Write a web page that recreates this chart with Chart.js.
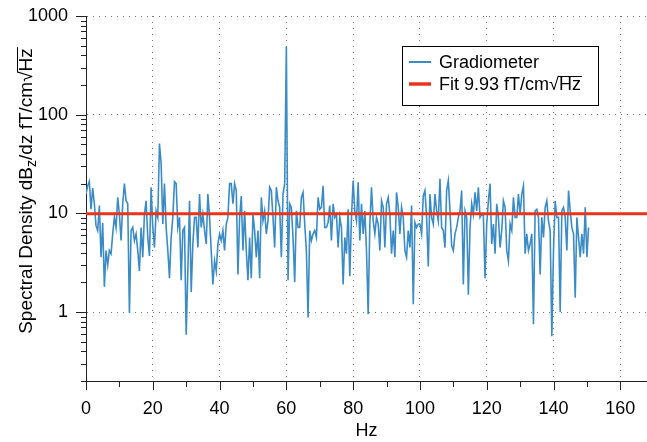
<!DOCTYPE html>
<html>
<head>
<meta charset="utf-8">
<script src="https://cdn.jsdelivr.net/npm/chart.js@4.4.1/dist/chart.umd.min.js"></script>
<style>
  html, body { margin: 0; padding: 0; background: #fff; }
</style>
</head>
<body>
<canvas id="chart" width="647" height="442"></canvas>
<script>
// frequency grid of the spectrum
const hzStart = 0
const hzStep = 0.5

// gradiometer spectral density, one value per 0.5 Hz
const gradiometer = [
  15.7, 19, 21, 11, 18, 12.5, 7.5, 6.7, 12, 3.6,
  8, 1.8, 4.2, 3.0, 4.2, 3.9, 6.2, 9.1, 7.2, 14.5,
  9.8, 5.3, 12.5, 20, 13.4, 12.5, 0.98, 6.7, 7.2, 5.3,
  6.2, 4.2, 2.6, 7.2, 3.6, 9.8, 13.4, 5.7, 3.7, 18.4,
  7.2, 4.5, 10.6, 9.1, 51, 32, 7.8, 20, 7.2, 4.2,
  2.2, 5.7, 9.1, 21, 20, 7.2, 9.1, 2.1, 6.7, 7.2,
  0.59, 2.6, 13.4, 1.6, 4.9, 9.1, 9.1, 4.5, 15.7, 7.2,
  9.8, 6.7, 4.9, 15.7, 9.1, 4.2, 1.9, 3.3, 2.6, 4.9,
  6.2, 5.3, 6.7, 4.2, 7.8, 9.1, 20, 20, 12.5, 20,
  17, 2.4, 9.1, 15, 4.2, 10.6, 4.2, 2.1, 5.7, 2.2,
  9.8, 6.7, 3.6, 6.7, 2.2, 14.5, 8.4, 10.6, 6.2, 8.4,
  18.4, 17, 9.1, 4.5, 18.4, 13.4, 11.5, 3.6, 15.7, 20,
  490, 2.1, 12.5, 11.5, 5.7, 2.0, 10.6, 7.2, 7.2, 14.5,
  16.3, 7.8, 4.2, 0.88, 6.7, 5.3, 6.2, 6.7, 5.7, 14.5,
  11, 11.5, 19, 7.2, 7.2, 8.1, 12, 5.3, 12.5, 9.1,
  9.8, 4.5, 9.1, 7.2, 1.9, 5.7, 3.9, 11, 2.3, 9.1,
  21.5, 10.6, 8.4, 20.7, 5.3, 12.5, 6.2, 10.6, 4.2, 0.95,
  7.8, 18.4, 8.4, 6.2, 9.1, 7.8, 4.2, 13.4, 11.5, 4.5,
  12.5, 14.5, 9.8, 3.9, 6.7, 3.6, 16.3, 11.5, 6.2, 11.5,
  9.1, 4.2, 3.6, 6.7, 4.5, 12, 1.2, 8.1, 7.2, 7.8,
  7.8, 6.2, 15, 17, 9.1, 2.9, 15.7, 9.1, 7.8, 15.7,
  10.6, 8.4, 22.4, 7.2, 6.7, 4.5, 17, 21.5, 10.6, 4.7,
  4.2, 6.2, 7.2, 9.1, 10.6, 17, 1.9, 10.6, 9.1, 1.5,
  7.2, 12.5, 9.8, 16.3, 10.6, 18.4, 9.1, 9.8, 9.5, 2.2,
  7.8, 13.4, 20, 4.9, 7.8, 3.9, 12.5, 9.1, 4.5, 6.7,
  13.4, 11.5, 4.2, 3.3, 7.8, 6.7, 14.5, 9.1, 9.1, 15.7,
  9.8, 15.7, 19, 3.9, 6.2, 4.2, 4.9, 6.2, 0.75, 10.6,
  11, 9.1, 2.4, 9.1, 5.7, 11.5, 13.4, 8.4, 6.7, 0.57,
  4.2, 13.4, 9.1, 9.1, 1.0, 10.6, 11.5, 9.1, 4.2, 17,
  10.6, 7.2, 6.2, 1.4, 9.1, 5.7, 3.6, 6.2, 3.9, 11.5,
  3.6, 7.2
]

const fitLevel = 9.93
const gradLabel = 'Gradiometer'
const fitLabel = 'Fit 9.93 fT/cm√Hz'

const xMin = 0
const xMax = 168
const xTicks = [0, 10, 20, 30, 40, 50, 60, 70, 80, 90, 100, 110, 120, 130, 140, 150, 160]
const xTickLabels = [0, 20, 40, 60, 80, 100, 120, 140, 160]
const xTitle = 'Hz'

const yMin = 0.2
const yMax = 1000
const yTicks = [0.2, 0.3, 0.4, 0.5, 0.6, 0.7, 0.8, 0.9,
  1, 2, 3, 4, 5, 6, 7, 8, 9,
  10, 20, 30, 40, 50, 60, 70, 80, 90,
  100, 200, 300, 400, 500, 600, 700, 800, 900, 1000]
const yTickLabels = [1, 10, 100, 1000]
// title pieces: normal, subscript, normal, overlined (under the root sign)
const yTitle = ['Spectral Density dB', 'z', '/dz fT/cm√', 'Hz']

const blue = '#3b8cc6'
const red = '#e8341c'
const axisColor = '#222'
const gridColor = '#777'
const font = '"Liberation Sans", Arial, Helvetica, sans-serif'

Chart.defaults.font.family = font
Chart.defaults.color = '#000'

// draws text and puts a bar over the part that follows the root sign
function rootText(ctx, text, x, y, size) {
  ctx.fillText(text, x, y)
  const i = text.indexOf('√')
  if (i < 0) return
  const x1 = x + ctx.measureText(text.slice(0, i + 1)).width - 1
  const x2 = x + ctx.measureText(text).width + 1
  const yy = Math.round(y - size * 0.8) + 0.5
  ctx.beginPath()
  ctx.moveTo(x1, yy)
  ctx.lineTo(x2, yy)
  ctx.lineWidth = 1
  ctx.strokeStyle = ctx.fillStyle
  ctx.stroke()
}

const tickMarks = {
  id: 'tickMarks',
  afterDraw(chart) {
    const { ctx, scales: { x, y } } = chart
    ctx.save()
    ctx.strokeStyle = axisColor
    ctx.lineWidth = 1
    ctx.beginPath()
    x.ticks.forEach(t => {
      const px = Math.round(x.getPixelForValue(t.value)) + 0.5
      const len = xTickLabels.includes(t.value) ? 9 : 6
      ctx.moveTo(px, x.top)
      ctx.lineTo(px, x.top + len)
    })
    y.ticks.forEach(t => {
      const py = Math.round(y.getPixelForValue(t.value)) + 0.5
      const len = yTickLabels.includes(t.value) ? 10 : 5
      ctx.moveTo(y.right, py)
      ctx.lineTo(y.right - len, py)
    })
    ctx.stroke()
    ctx.restore()
  }
}

const yAxisTitle = {
  id: 'yAxisTitle',
  afterDraw(chart) {
    const { ctx } = chart
    const big = '19px ' + font
    const small = '14px ' + font
    ctx.save()
    ctx.font = big
    const w0 = ctx.measureText(yTitle[0]).width
    const w2 = ctx.measureText(yTitle[2]).width
    const w3 = ctx.measureText(yTitle[3]).width
    ctx.font = small
    const w1 = ctx.measureText(yTitle[1]).width
    const total = w0 + w1 + w2 + w3
    ctx.translate(32, 191)
    ctx.rotate(-Math.PI / 2)
    ctx.fillStyle = '#000'
    ctx.textBaseline = 'alphabetic'
    let px = -total / 2
    ctx.font = big
    ctx.fillText(yTitle[0], px, 0)
    px += w0
    ctx.font = small
    ctx.fillText(yTitle[1], px, 4)
    px += w1
    ctx.font = big
    rootText(ctx, yTitle[2] + yTitle[3], px, 0, 19)
    ctx.restore()
  }
}

const boxLegend = {
  id: 'boxLegend',
  afterDraw(chart) {
    const { ctx } = chart
    const left = 402, top = 46, rowH = 22, width = 196
    ctx.save()
    ctx.font = '18px ' + font
    const items = chart.data.datasets
    const height = items.length * rowH + 15
    ctx.fillStyle = '#fff'
    ctx.fillRect(left, top, width, height)
    ctx.strokeStyle = '#000'
    ctx.lineWidth = 1
    ctx.strokeRect(left + 0.5, top + 0.5, width, height)
    items.forEach((d, i) => {
      const cy = top + 16 + i * rowH
      ctx.beginPath()
      ctx.moveTo(left + 7, cy)
      ctx.lineTo(left + 29, cy)
      ctx.strokeStyle = d.borderColor
      ctx.lineWidth = d.legendWidth
      ctx.stroke()
      ctx.fillStyle = '#000'
      ctx.textBaseline = 'alphabetic'
      rootText(ctx, d.label, left + 37, cy + 6, 18)
    })
    ctx.restore()
  }
}

new Chart('chart', {
  type: 'line',
  data: {
    datasets: [{
      label: gradLabel,
      data: gradiometer.map((v, i) => ({ x: hzStart + i * hzStep, y: v })),
      borderColor: blue,
      borderWidth: 1.6,
      legendWidth: 2,
      pointRadius: 0,
      tension: 0,
      order: 1
    }, {
      label: fitLabel,
      data: [{ x: xMin, y: fitLevel }, { x: xMax, y: fitLevel }],
      borderColor: red,
      borderWidth: 3,
      legendWidth: 3.5,
      pointRadius: 0,
      order: 0
    }]
  },
  options: {
    responsive: false,
    animation: false,
    events: [],
    layout: { padding: { top: 16, right: 0, bottom: 0, left: 0 } },
    plugins: { legend: { display: false }, tooltip: { enabled: false } },
    scales: {
      x: {
        type: 'linear',
        min: xMin,
        max: xMax,
        afterBuildTicks: s => { s.ticks = xTicks.map(v => ({ value: v })) },
        afterFit: s => { s.height = 61; s.paddingLeft = 0; s.paddingRight = 0 },
        ticks: {
          autoSkip: false,
          maxRotation: 0,
          padding: 17,
          font: { size: 18 },
          color: '#000',
          callback: v => xTickLabels.includes(v) ? String(v) : ''
        },
        grid: {
          drawTicks: false,
          color: c => (c.tick && c.tick.value !== 0 && xTickLabels.includes(c.tick.value)) ? gridColor : 'rgba(0,0,0,0)'
        },
        border: { display: true, color: axisColor, width: 1, dash: [1, 5] },
        title: { display: true, text: xTitle, font: { size: 18 }, color: '#000', padding: { top: 0, bottom: 0 } }
      },
      y: {
        type: 'logarithmic',
        min: yMin,
        max: yMax,
        afterBuildTicks: s => { s.ticks = yTicks.map(v => ({ value: v })) },
        afterFit: s => { s.width = 86; s.paddingTop = 0; s.paddingBottom = 0 },
        ticks: {
          autoSkip: false,
          padding: 18,
          font: { size: 18 },
          color: '#000',
          callback: v => yTickLabels.includes(v) ? String(v) : ''
        },
        grid: {
          drawTicks: false,
          color: c => (c.tick && c.tick.value !== yMin && yTickLabels.includes(c.tick.value)) ? gridColor : 'rgba(0,0,0,0)'
        },
        border: { display: true, color: axisColor, width: 1, dash: [1, 5] }
      }
    }
  },
  plugins: [tickMarks, yAxisTitle, boxLegend]
})
</script>
</body>
</html>
